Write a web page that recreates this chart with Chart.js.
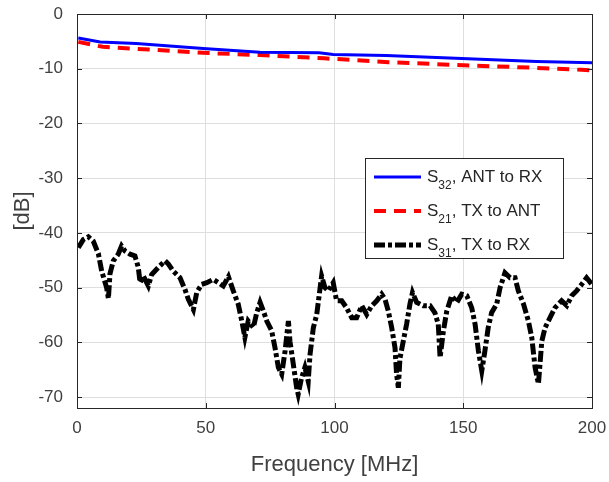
<!DOCTYPE html>
<html>
<head>
<meta charset="utf-8">
<script src="https://cdn.jsdelivr.net/npm/chart.js@4"></script>
<style>
  body { margin: 0; background: #fff; }
</style>
</head>
<body>
<canvas id="chart" width="609" height="482"></canvas>
<script>
// S32 (ANT to RX)
const s32Freq = [0.5, 9, 23, 49, 71, 94, 99.5, 120, 147, 178.5, 200];
const s32Db   = [-4.4, -5.1, -5.4, -6.3, -7.0, -7.1, -7.4, -7.6, -8.1, -8.7, -8.9];

// S21 (TX to ANT)
const s21Freq = [0.5, 10, 28, 49, 71, 96, 121, 147, 176, 196, 200];
const s21Db   = [-5.1, -6.0, -6.5, -7.1, -7.5, -8.1, -8.8, -9.3, -9.8, -10.2, -10.3];

// S31 (TX to RX)
const s31Freq = [0.5, 2.5, 4.4, 6.3, 8.3, 9.6, 11.5, 12.2, 12.8, 14.1, 16, 17.3, 18.6, 20.6, 22.5,
  23.8, 24.5, 25.8, 27.7, 29, 31.6, 34.2, 35.5, 37.4, 40, 41.9, 43.2, 45.2, 46.5, 48.4, 50.4,
  52.9, 54.9, 56.8, 58.8, 60.7, 62.6, 64, 65.2, 66.5, 68.5, 69.8, 71.1, 72.4, 73.7, 75.6, 76.9,
  78.2, 79.5, 80.8, 82.1, 82.7, 84, 85.3, 85.9, 87.2, 88.5, 89.8, 90.5, 91.8, 93.1, 94.1, 95,
  96.3, 97.6, 99.5, 100.8, 102.8, 104.7, 106.7, 108.6, 110.6, 112.5, 114.5, 116.4, 118.3, 119.6,
  120.9, 122.2, 123.5, 124.1, 124.8, 125.4, 126.7, 128, 129.3, 130.3, 131.9, 134.5, 137.1, 139,
  140.3, 141, 142.3, 143.6, 145.5, 147.5, 149.4, 151.4, 153.3, 154.6, 155.9, 157.2, 158.4, 159.7,
  161, 163, 164.3, 166.2, 168.2, 170.1, 171.4, 173.4, 175.3, 176.6, 177.9, 179.2, 180.5, 181.8,
  183.7, 185.6, 188.2, 190.2, 192.1, 194, 196, 197.9, 199.9];
const s31Db = [-42.7, -41.2, -40.7, -41.5, -43.8, -47, -50, -52, -47.5, -45.1, -43.9, -42.4, -43.3, -43.9, -44.2,
  -46.3, -49.1, -47.9, -49.7, -47.6, -46.3, -45.1, -45.7, -47, -48.2, -50.3, -52.1, -54, -50.9, -49.4, -49.1,
  -48.5, -49.1, -49.7, -48, -50.6, -53, -56.1, -59.1, -56.1, -57.3, -54.6, -52.7, -54.3, -56.1, -57.9, -61,
  -64.6, -65.8, -61.6, -56.1, -59.8, -64, -68.3, -69.5, -66.5, -64.6, -67.1, -62.2, -57.3, -54.9, -51.2, -47.9,
  -50, -50.6, -49.1, -52.4, -52.4, -53.7, -55.5, -55.5, -53.3, -54.9, -53.3, -52.4, -51.2, -52.1,
  -54.3, -57.3, -61, -65.8, -68.3, -63, -59.8, -56.7, -53, -50.9, -52.7, -53.3, -53.3, -54.6,
  -56.7, -62.8, -57.9, -54.3, -51.5, -52.7, -51.2, -51.5, -53.7, -56.7, -61.6, -65.2, -61.6, -57.3,
  -54.6, -53, -50, -47.3, -48.2, -48.2, -50.6, -53, -56.1, -59.1, -64.6, -67.6, -59.8, -57.3,
  -55.5, -53.7, -52.4, -53.3, -51.5, -50.6, -49.4, -48.2, -49.4];

const xTicks = [0, 50, 100, 150, 200];
const yTicks = [0, -10, -20, -30, -40, -50, -60, -70];

const legendSubs = ['32', '21', '31'];
const legendText = [', ANT to RX', ', TX to ANT', ', TX to RX'];

const FONT = '"Liberation Sans", Arial, Helvetica, sans-serif';

function pts(xs, ys) {
  return xs.map((x, i) => ({ x, y: ys[i] }));
}

// box around the axes with inward ticks, MATLAB style
const boxPlugin = {
  id: 'box',
  afterDatasetsDraw(chart) {
    const { ctx, chartArea: a, scales } = chart;
    ctx.save();
    ctx.strokeStyle = '#262626';
    ctx.lineWidth = 1;
    ctx.strokeRect(a.left + 0.5, a.top + 0.5, a.right - a.left, a.bottom - a.top);
    ctx.beginPath();
    xTicks.forEach(v => {
      const px = Math.round(scales.x.getPixelForValue(v)) + 0.5;
      ctx.moveTo(px, a.bottom); ctx.lineTo(px, a.bottom - 5);
      ctx.moveTo(px, a.top); ctx.lineTo(px, a.top + 5);
    });
    yTicks.forEach(v => {
      const py = Math.round(scales.y.getPixelForValue(v)) + 0.5;
      ctx.moveTo(a.left, py); ctx.lineTo(a.left + 5, py);
      ctx.moveTo(a.right, py); ctx.lineTo(a.right - 5, py);
    });
    ctx.stroke();
    ctx.restore();
  },
};

// legend with subscripts
const legendPlugin = {
  id: 'subLegend',
  afterDraw(chart) {
    const { ctx } = chart;
    const bx = 365, by = 158, bw = 198, bh = 100;
    ctx.save();
    ctx.fillStyle = '#fff';
    ctx.fillRect(bx, by, bw, bh);
    ctx.strokeStyle = '#262626';
    ctx.lineWidth = 1;
    ctx.strokeRect(bx + 0.5, by + 0.5, bw, bh);
    chart.data.datasets.forEach((ds, i) => {
      const y = by + 19 + i * 34;
      ctx.beginPath();
      ctx.strokeStyle = ds.borderColor;
      ctx.lineWidth = ds.borderWidth;
      ctx.setLineDash(ds.borderDash || []);
      ctx.moveTo(374, y);
      ctx.lineTo(421, y);
      ctx.stroke();
      ctx.setLineDash([]);
      ctx.fillStyle = '#262626';
      ctx.textBaseline = 'middle';
      ctx.font = '17px ' + FONT;
      let x = 427;
      ctx.fillText('S', x, y);
      x += ctx.measureText('S').width;
      ctx.font = '12px ' + FONT;
      ctx.fillText(legendSubs[i], x, y + 9);
      x += ctx.measureText(legendSubs[i]).width;
      ctx.font = '17px ' + FONT;
      ctx.fillText(legendText[i], x, y);
    });
    ctx.restore();
  },
};

new Chart(document.getElementById('chart'), {
  type: 'line',
  data: {
    datasets: [
      {
        label: 'S32, ANT to RX',
        data: pts(s32Freq, s32Db),
        borderColor: '#0000ff',
        borderWidth: 3,
        pointRadius: 0,
        tension: 0,
      },
      {
        label: 'S21, TX to ANT',
        data: pts(s21Freq, s21Db),
        borderColor: '#ff0000',
        borderWidth: 4,
        borderDash: [12, 8],
        pointRadius: 0,
        tension: 0,
      },
      {
        label: 'S31, TX to RX',
        data: pts(s31Freq, s31Db),
        borderColor: '#000000',
        borderWidth: 5,
        borderDash: [11, 3, 4, 3],
        pointRadius: 0,
        tension: 0,
      },
    ],
  },
  options: {
    responsive: false,
    animation: false,
    layout: { padding: { left: 0, right: 17, top: 14, bottom: 0 } },
    plugins: {
      legend: { display: false },
      tooltip: { enabled: false },
    },
    scales: {
      x: {
        type: 'linear',
        min: 0,
        max: 200,
        afterBuildTicks: axis => { axis.ticks = xTicks.map(v => ({ value: v })); },
        afterFit: axis => { axis.height = 74; axis.paddingLeft = 0; axis.paddingRight = 0; },
        grid: { color: '#dedede', drawTicks: false },
        border: { display: false },
        ticks: { color: '#404040', font: { family: FONT, size: 17 }, padding: 10, maxRotation: 0 },
        title: { display: true, text: 'Frequency [MHz]', color: '#404040', font: { family: FONT, size: 22 }, padding: { top: 6 } },
      },
      y: {
        min: -72,
        max: 0,
        afterBuildTicks: axis => { axis.ticks = yTicks.map(v => ({ value: v })); },
        afterFit: axis => { axis.width = 77; axis.paddingTop = 0; axis.paddingBottom = 0; },
        grid: { color: '#dedede', drawTicks: false },
        border: { display: false },
        ticks: { color: '#404040', font: { family: FONT, size: 17 }, padding: 14 },
        title: { display: true, text: '[dB]', color: '#404040', font: { family: FONT, size: 22 }, padding: { top: 10, bottom: 0 } },
      },
    },
  },
  plugins: [boxPlugin, legendPlugin],
});
</script>
</body>
</html>
